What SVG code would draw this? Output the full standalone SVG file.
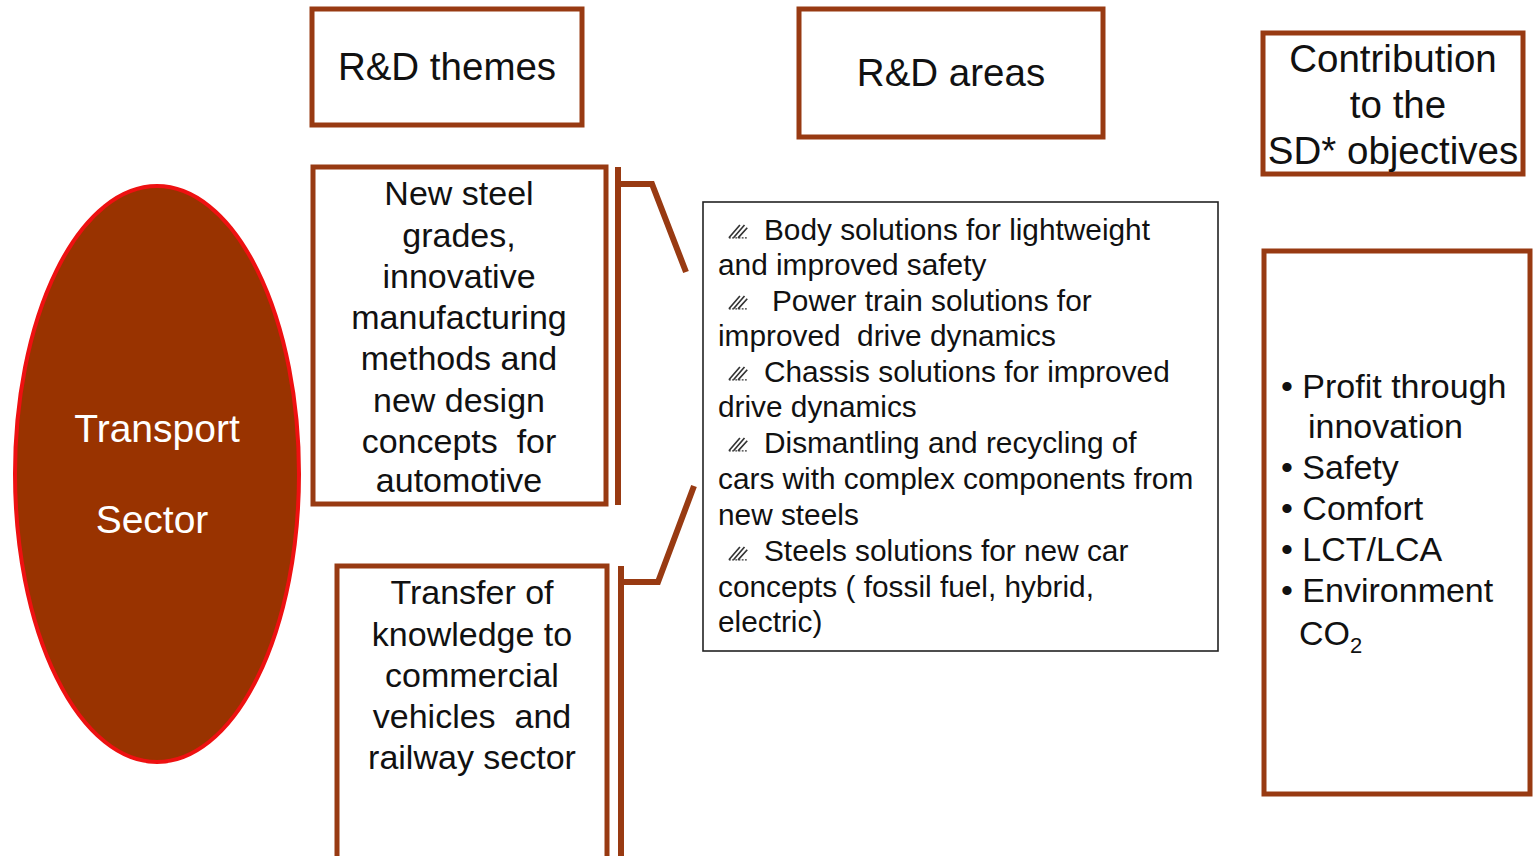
<svg xmlns="http://www.w3.org/2000/svg" xmlns:xlink="http://www.w3.org/1999/xlink" width="1535" height="856" viewBox="0 0 1535 856">
<style>
.box{fill:#fff;stroke:#983A12;stroke-width:5}
.t{font-family:"Liberation Sans",Arial,sans-serif;fill:#111;}
.h{font-size:38.5px;text-anchor:middle}
.m{font-size:34px;text-anchor:middle}
.a{font-size:29.8px}
.r{font-size:34px}
.w{font-size:39px;text-anchor:middle;fill:#fff}
.con{fill:none;stroke:#983A12;stroke-width:6}
</style>
<defs>
<symbol id="pen" viewBox="0 0 24 18" overflow="visible">
<path d="M1 17 L13 3 M6 17 L18 3 M11 17 L21 6" stroke="#333" stroke-width="1.8" fill="none"/>
<path d="M1 17 L21 17" stroke="#333" stroke-width="1.2" stroke-dasharray="2 1.5" fill="none"/>
</symbol>
</defs>
<rect width="1535" height="856" fill="#fff"/>
<g id="transport">
<ellipse cx="157" cy="474" rx="142" ry="288" fill="#993300" stroke="#EE1111" stroke-width="4"/>
<text class="t w" x="157" y="442">Transport</text>
<text class="t w" x="152" y="533">Sector</text>
</g>
<g id="rd-themes">
<rect class="box" x="312" y="9" width="270" height="116"/>
<text class="t h" x="447" y="80">R&amp;D themes</text>
</g>
<g id="rd-areas">
<rect class="box" x="799" y="9" width="304" height="128"/>
<text class="t h" x="951" y="86">R&amp;D areas</text>
</g>
<g id="contribution">
<rect class="box" x="1263" y="33" width="260" height="141"/>
<text class="t h" x="1393" y="72">Contribution</text>
<text class="t h" x="1398" y="118">to the</text>
<text class="t h" x="1393" y="164">SD* objectives</text>
</g>
<g id="new-steel">
<rect class="box" x="313" y="167" width="293" height="337"/>
<text class="t m" x="459" y="205">New steel</text>
<text class="t m" x="459" y="247">grades,</text>
<text class="t m" x="459" y="288">innovative</text>
<text class="t m" x="459" y="329">manufacturing</text>
<text class="t m" x="459" y="370">methods and</text>
<text class="t m" x="459" y="412">new design</text>
<text class="t m" x="459" y="453" xml:space="preserve">concepts  for</text>
<text class="t m" x="459" y="492">automotive</text>
</g>
<g id="transfer">
<rect class="box" x="337" y="566" width="270" height="294"/>
<text class="t m" x="472" y="604">Transfer of</text>
<text class="t m" x="472" y="646">knowledge to</text>
<text class="t m" x="472" y="687">commercial</text>
<text class="t m" x="472" y="728" xml:space="preserve">vehicles  and</text>
<text class="t m" x="472" y="769">railway sector</text>
</g>
<g id="areas-list">
<rect x="703" y="202" width="515" height="449" fill="#fff" stroke="#222" stroke-width="1.6"/>
<use xlink:href="#pen" href="#pen" x="728" y="222" width="22" height="17"/>
<use xlink:href="#pen" href="#pen" x="728" y="293" width="22" height="17"/>
<use xlink:href="#pen" href="#pen" x="728" y="364" width="22" height="17"/>
<use xlink:href="#pen" href="#pen" x="728" y="435" width="22" height="17"/>
<use xlink:href="#pen" href="#pen" x="728" y="544" width="22" height="17"/>
<text class="t a" x="764" y="240">Body solutions for lightweight</text>
<text class="t a" x="718" y="275">and improved safety</text>
<text class="t a" x="772" y="311">Power train solutions for</text>
<text class="t a" x="718" y="346" xml:space="preserve">improved  drive dynamics</text>
<text class="t a" x="764" y="382">Chassis solutions for improved</text>
<text class="t a" x="718" y="417">drive dynamics</text>
<text class="t a" x="764" y="453">Dismantling and recycling of</text>
<text class="t a" x="718" y="489">cars with complex components from</text>
<text class="t a" x="718" y="525">new steels</text>
<text class="t a" x="764" y="561">Steels solutions for new car</text>
<text class="t a" x="718" y="597">concepts ( fossil fuel, hybrid,</text>
<text class="t a" x="718" y="632">electric)</text>
</g>
<g id="objectives">
<rect class="box" x="1264" y="251" width="266" height="543"/>
<text class="t r" x="1281" y="398">• Profit through</text>
<text class="t r" x="1308" y="438">innovation</text>
<text class="t r" x="1281" y="479">• Safety</text>
<text class="t r" x="1281" y="520">• Comfort</text>
<text class="t r" x="1281" y="561">• LCT/LCA</text>
<text class="t r" x="1281" y="602">• Environment</text>
<text class="t r" x="1299" y="645">CO<tspan font-size="22" dy="8">2</tspan></text>
</g>
<g id="connectors">
<path class="con" d="M618 167 L618 505 M618 184 L652 184 L686 272"/>
<path class="con" d="M621 566 L621 856 M621 582 L658 582 L694 486"/>
</g>
</svg>
